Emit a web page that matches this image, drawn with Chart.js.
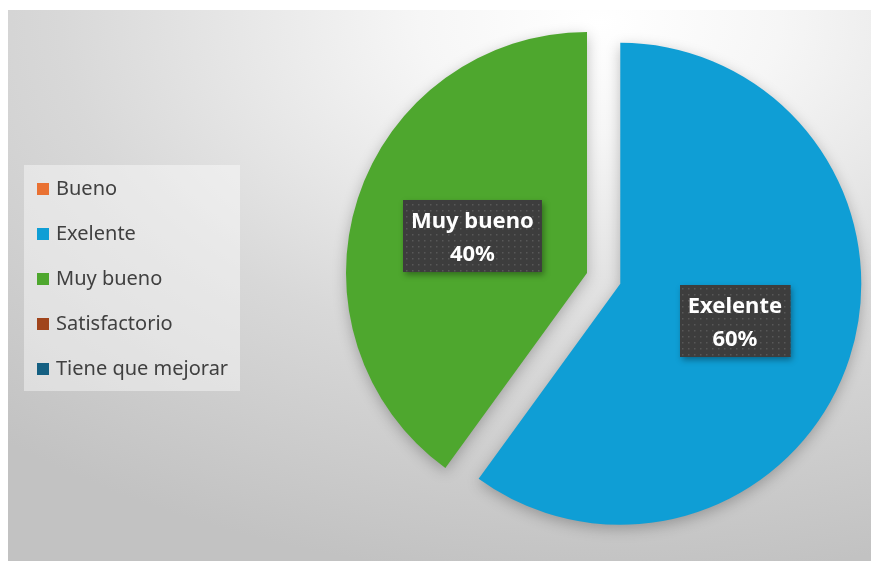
<!DOCTYPE html>
<html lang="es">
<head>
<meta charset="utf-8">
<title>Calificaciones</title>
<script src="https://cdn.jsdelivr.net/npm/chart.js@4.4.1/dist/chart.umd.min.js"></script>
<style>
    html, body { margin: 0; padding: 0; background: #fff; }
    #wrap { position: absolute; left: 8px; top: 10px; width: 863px; height: 551px; }
</style>
</head>
<body>
<div id="wrap"><canvas id="pastel"></canvas></div>
<script>
// --- DATOS ---
const categorias = ['Bueno', 'Exelente', 'Muy bueno', 'Satisfactorio', 'Tiene que mejorar'];
const porcentajes = [0, 60, 40, 0, 0];

// --- COLORES (tema Office) ---
const COLORES = ['#E97132', '#0F9ED5', '#4EA72E', '#A0441B', '#156082'];

// Patrón de puntos para las cajas de etiqueta
function crearPatron(ctx) {
    const c = document.createElement('canvas');
    c.width = 6; c.height = 6;
    const p = c.getContext('2d');
    p.fillStyle = '#3d3d3d';
    p.fillRect(0, 0, 6, 6);
    p.fillStyle = '#585858';
    p.fillRect(2, 2, 1.5, 1.5);
    return ctx.createPattern(c, 'repeat');
}

// ─────────────────────────────────────────────
// Plugins
// ─────────────────────────────────────────────
const fondoPlugin = {
    id: 'fondo',
    beforeDraw(chart) {
        const { ctx, width, height } = chart;
        const sy = 0.62;
        ctx.save();
        ctx.translate(592, 0);
        ctx.scale(1, sy);
        const g = ctx.createRadialGradient(0, 20, 0, 0, 20, 900);
        g.addColorStop(0, '#ffffff');
        g.addColorStop(0.2, '#f6f6f6');
        g.addColorStop(0.6, '#d8d8d8');
        g.addColorStop(1, '#c2c2c2');
        ctx.fillStyle = g;
        ctx.fillRect(-592, 0, width, height / sy);
        ctx.restore();
    }
};

const sombraPlugin = {
    id: 'sombra',
    beforeDatasetsDraw(chart) {
        const ctx = chart.ctx;
        ctx.save();
        ctx.shadowColor = 'rgba(0,0,0,0.25)';
        ctx.shadowBlur = 14;
        ctx.shadowOffsetY = 4;
    },
    afterDatasetsDraw(chart) {
        chart.ctx.restore();
    }
};

// Separa (explota) rebanadas a lo largo de su bisectriz
const separarPlugin = {
    id: 'separar',
    afterDatasetsUpdate(chart, args, opts) {
        chart.getDatasetMeta(0).data.forEach((arc, i) => {
            const d = (opts.distancias || [])[i] || 0;
            const mid = (arc.startAngle + arc.endAngle) / 2;
            arc.x += Math.cos(mid) * d;
            arc.y += Math.sin(mid) * d;
        });
    }
};

const leyendaPlugin = {
    id: 'leyenda',
    afterDraw(chart, args, o) {
        const { ctx } = chart;
        const colores = chart.data.datasets[0].backgroundColor;
        ctx.save();
        ctx.fillStyle = 'rgba(255,255,255,0.42)';
        ctx.fillRect(o.x, o.y, o.ancho, o.alto);
        ctx.font = '20px "Noto Sans"';
        ctx.textBaseline = 'middle';
        chart.data.labels.forEach((lbl, i) => {
            const y = o.y + o.primera + i * o.paso;
            ctx.fillStyle = colores[i];
            ctx.fillRect(o.x + 13, y - 6, 12, 12);
            ctx.fillStyle = '#404040';
            ctx.fillText(lbl, o.x + 32, y);
        });
        ctx.restore();
    }
};

const etiquetasPlugin = {
    id: 'etiquetas',
    afterDraw(chart) {
        const { ctx } = chart;
        const meta = chart.getDatasetMeta(0);
        const valores = chart.data.datasets[0].data;
        const total = valores.reduce((a, b) => a + b, 0);
        const patron = crearPatron(ctx);
        ctx.save();
        ctx.font = 'bold 22px "Noto Sans"';
        ctx.textAlign = 'center';
        ctx.textBaseline = 'alphabetic';
        meta.data.forEach((arc, i) => {
            if (!valores[i]) return;
            const mid = (arc.startAngle + arc.endAngle) / 2;
            const r = arc.outerRadius / 2;
            const cx = arc.x + Math.cos(mid) * r;
            const cy = arc.y + Math.sin(mid) * r;
            const lineas = [chart.data.labels[i], Math.round(valores[i] / total * 100) + '%'];
            const w = Math.max(...lineas.map(t => ctx.measureText(t).width)) + 16;
            const h = 72;
            const x0 = Math.round(cx - w / 2), y0 = Math.round(cy - h / 2);

            ctx.save();
            ctx.shadowColor = 'rgba(0,0,0,0.35)';
            ctx.shadowBlur = 6;
            ctx.shadowOffsetX = 2;
            ctx.shadowOffsetY = 3;
            ctx.fillStyle = '#3d3d3d';
            ctx.fillRect(x0, y0, w, h);
            ctx.restore();
            ctx.fillStyle = patron;
            ctx.fillRect(x0, y0, w, h);

            ctx.fillStyle = '#ffffff';
            ctx.fillText(lineas[0], cx, cy - 8);
            ctx.fillText(lineas[1], cx, cy + 25);
        });
        ctx.restore();
    }
};

// ─────────────────────────────────────────────
// Gráfica de pastel
// ─────────────────────────────────────────────
const ctx = document.getElementById('pastel').getContext('2d');

new Chart(ctx, {
    type: 'pie',
    data: {
        labels: categorias,
        datasets: [{
            data: porcentajes,
            backgroundColor: COLORES,
            borderWidth: 0
        }]
    },
    options: {
        responsive: true,
        maintainAspectRatio: false,
        animation: false,
        radius: 241,
        rotation: 0,
        layout: { padding: { left: 295, right: 0, top: 0, bottom: 25 } },
        plugins: {
            legend: { display: false },
            tooltip: { enabled: false },
            separar: { distancias: [0, 35, 0, 0, 0] },
            leyenda: { x: 16, y: 155, ancho: 216, alto: 226, primera: 24, paso: 45 }
        }
    },
    plugins: [fondoPlugin, sombraPlugin, separarPlugin, leyendaPlugin, etiquetasPlugin]
});
</script>
</body>
</html>
